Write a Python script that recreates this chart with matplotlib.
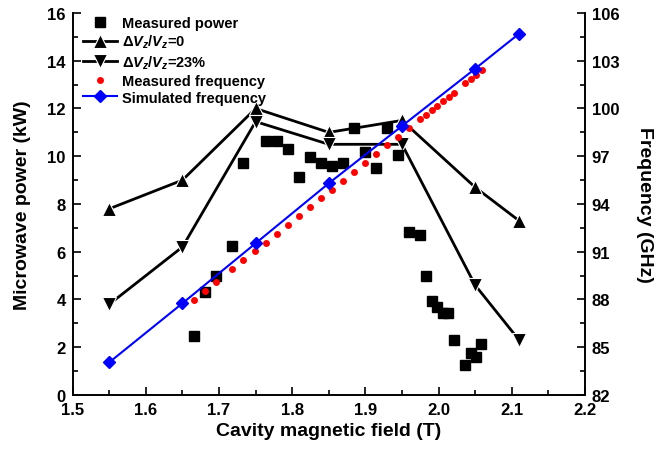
# Drittanbieter-Bibliotheken
import matplotlib
matplotlib.use('Agg')
import matplotlib.pyplot as plt
from matplotlib.ticker import MultipleLocator, FixedLocator

# Daten: Simulation (Dreiecke) und Messung
b_sim = [1.55, 1.65, 1.75, 1.85, 1.95, 2.05, 2.11]
power_dv0 = [7.8, 9.0, 12.0, 11.0, 11.5, 8.7, 7.3]
power_dv23 = [3.8, 6.2, 11.45, 10.5, 10.5, 4.6, 2.3]
freq_sim = [84.05, 87.76, 91.53, 95.3, 98.9, 102.5, 104.7]

b_meas_power = [1.666, 1.681, 1.696, 1.718, 1.733, 1.764, 1.779, 1.794, 1.809, 1.824,
                1.840, 1.855, 1.870, 1.885, 1.900, 1.915, 1.930, 1.945, 1.960, 1.975,
                1.983, 1.991, 1.998, 2.006, 2.013, 2.021, 2.036, 2.044, 2.051, 2.058]
power_meas = [2.47, 4.33, 4.97, 6.24, 9.73, 10.64, 10.64, 10.30, 9.14, 9.96,
              9.73, 9.60, 9.73, 11.2, 10.16, 9.49, 11.2, 10.07, 6.83, 6.71,
              4.97, 3.95, 3.69, 3.42, 3.42, 2.32, 1.24, 1.77, 1.59, 2.12]

b_meas_freq = [1.666, 1.681, 1.696, 1.718, 1.733, 1.749, 1.764, 1.779, 1.794, 1.809,
               1.824, 1.840, 1.855, 1.870, 1.885, 1.900, 1.915, 1.930, 1.945, 1.960,
               1.975, 1.983, 1.991, 1.998, 2.006, 2.014, 2.021, 2.036, 2.044, 2.051, 2.059]
freq_meas = [87.99, 88.53, 89.08, 89.91, 90.46, 91.02, 91.57, 92.13, 92.68, 93.24,
             93.79, 94.35, 94.9, 95.46, 96.01, 96.57, 97.14, 97.68, 98.22, 98.77,
             99.34, 99.6, 99.9, 100.17, 100.45, 100.74, 101.0, 101.58, 101.85, 102.12, 102.4]

# Tickpositionen der Frequenzachse
freq_ticks = [82, 85, 88, 91, 94, 97, 100, 103, 106]

# Schrift: Arial-Ersatz, fett
plt.rcParams['font.family'] = ['Liberation Sans', 'DejaVu Sans']
plt.rcParams['font.weight'] = 'bold'
plt.rcParams['mathtext.fontset'] = 'custom'
plt.rcParams['mathtext.rm'] = 'Liberation Sans:bold'
plt.rcParams['mathtext.it'] = 'Liberation Sans:bold:italic'
plt.rcParams['mathtext.bf'] = 'Liberation Sans:bold'


def tick_style(ax):
    """Ticks nach innen, wie im Original"""
    ax.tick_params(which='major', direction='in', length=6, width=1.2, labelsize=12, pad=5)
    ax.tick_params(which='minor', direction='in', length=3.5, width=1.2)


fig = plt.figure(figsize=(6.7, 4.52), dpi=100)
ax = fig.add_axes([0.1085, 0.124, 0.7645, 0.845])
ax2 = ax.twinx()

# Linke Achse: Leistung
l_meas, = ax.plot(b_meas_power, power_meas, 's', color='black', ms=6.5, zorder=3,
                  label='Measured power')
l_dv0, = ax.plot(b_sim, power_dv0, '-^', color='black', lw=2, ms=10, mec='white', mew=0.8,
                 label=r'$\Delta V_z/ V_z$=0')
l_dv23, = ax.plot(b_sim, power_dv23, '-v', color='black', lw=2, ms=10, mec='white', mew=0.8,
                  label=r'$\Delta V_z/ V_z$=23%')

# Rechte Achse: Frequenz
l_fm, = ax2.plot(b_meas_freq, freq_meas, 'o', color='#ff0000', ms=5, mew=0,
                 label='Measured frequency')
l_fs, = ax2.plot(b_sim, freq_sim, '-D', color='#0000ff', lw=1.5, ms=6.5,
                 label='Simulated frequency')

ax.set_xlim(1.5, 2.2)
ax.set_ylim(0, 16)
ax2.set_ylim(82, 106)

ax.xaxis.set_major_locator(MultipleLocator(0.1))
ax.xaxis.set_minor_locator(MultipleLocator(0.05))
ax.yaxis.set_major_locator(MultipleLocator(2))
ax.yaxis.set_minor_locator(MultipleLocator(1))
ax2.yaxis.set_major_locator(FixedLocator(freq_ticks))
ax2.yaxis.set_minor_locator(FixedLocator([t + 1.5 for t in freq_ticks[:-1]]))
ax.xaxis.set_major_formatter(plt.FormatStrFormatter('%.1f'))
tick_style(ax)
tick_style(ax2)

# Rahmen: oben offen
for a in (ax, ax2):
    a.spines['top'].set_visible(False)
    for s in ('left', 'right', 'bottom'):
        a.spines[s].set_linewidth(1.2)

ax.set_xlabel('Cavity magnetic field (T)', fontsize=14, fontweight='bold', labelpad=4)
ax.set_ylabel('Microwave power (kW)', fontsize=14, fontweight='bold', labelpad=12)
ax2.set_ylabel('Frequency (GHz)', fontsize=14, fontweight='bold', rotation=-90, labelpad=24)

# Legende ohne Rahmen oben links
ax2.legend(handles=[l_meas, l_dv0, l_dv23, l_fm, l_fs], loc='upper left',
           bbox_to_anchor=(0.02, 0.992), frameon=False, fontsize=10.5, borderaxespad=0,
           handlelength=2.35, handletextpad=0.3, labelspacing=0.2, borderpad=0)

fig.savefig('out.png', dpi=100)
